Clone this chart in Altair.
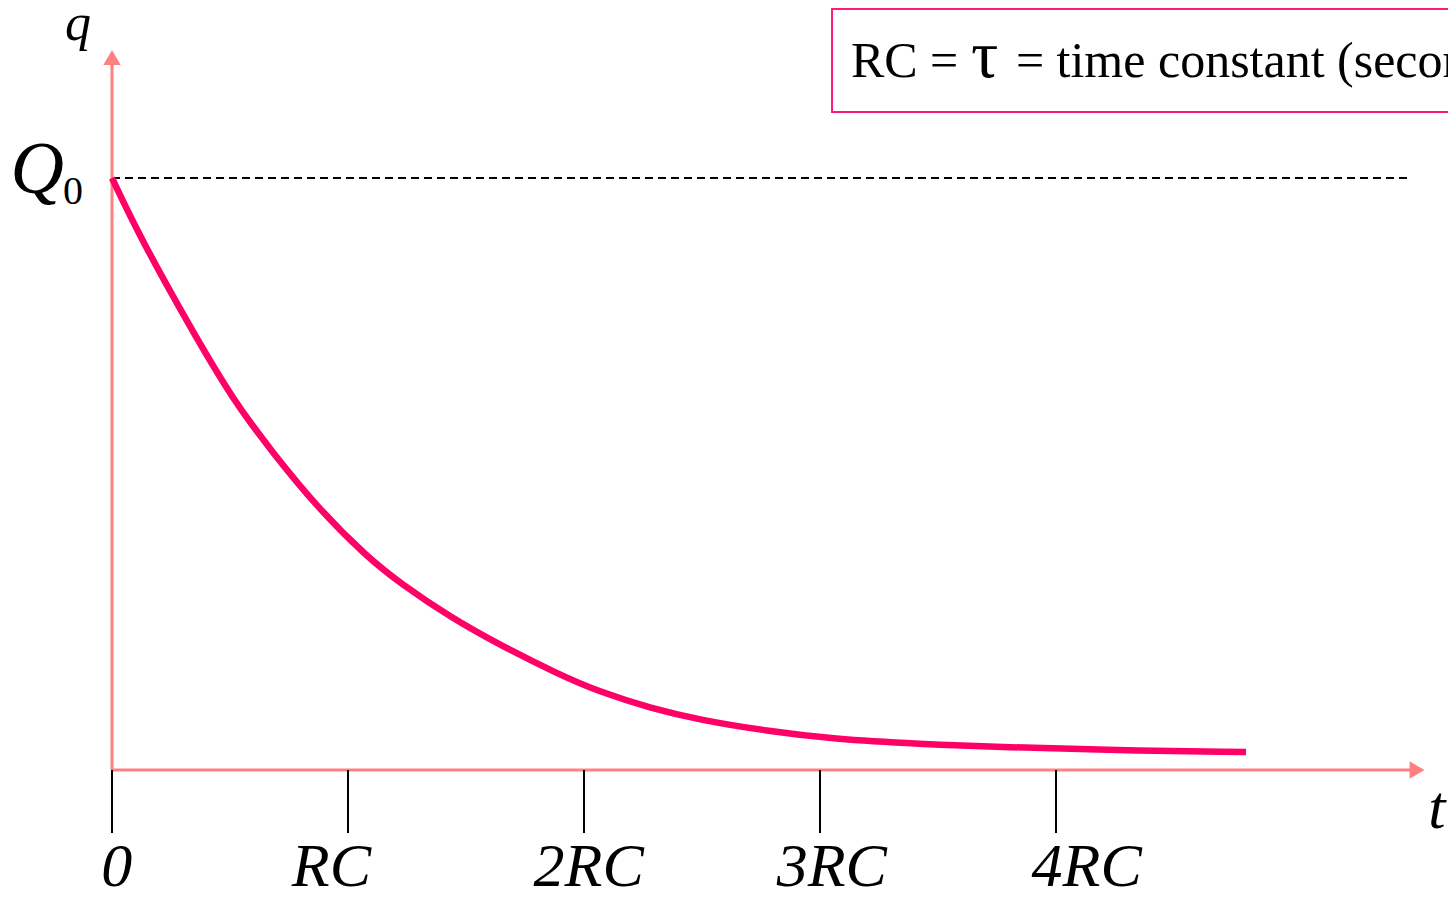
import altair as alt
import pandas as pd

# ---- data (time in units of RC, charge in units of Q0) ----
curve_t = [0, 0.1186, 0.3305, 0.5127, 0.6822, 0.8686, 1.0805, 1.2203, 1.4322, 1.6441,
           1.8983, 2.0678, 2.2797, 2.4915, 2.7754, 3.0551, 3.4237, 3.7627, 4.1864, 4.8051]
curve_q = [1.0, 0.9003, 0.7483, 0.6250, 0.5355, 0.4443, 0.3598, 0.3159, 0.2584, 0.2111,
           0.1605, 0.1318, 0.1047, 0.0845, 0.0659, 0.0524, 0.0439, 0.0389, 0.0338, 0.0304]

tick_pos = [0, 1, 2, 3, 4]
tick_labels = ["0", "RC", "2RC", "3RC", "4RC"]
tick_label_pos = [0.02, 0.93, 2.02, 3.05, 4.13]

# ---- layout ----
W, H = 1336, 762
X_MAX = W / 236.0
Y_MAX = H / 592.0
xs = alt.Scale(domain=[0, X_MAX], nice=False, zero=False)
ys = alt.Scale(domain=[0, Y_MAX], nice=False, zero=False)
SERIF = "Liberation Serif"
AXIS_COL = "#FF8080"
CURVE_COL = "#FF0066"
BOX_COL = "#FF1A75"


def X(f):
    return alt.X(f, type="quantitative", scale=xs, axis=None)


def Y(f):
    return alt.Y(f, type="quantitative", scale=ys, axis=None)


curve_df = pd.DataFrame({"t": curve_t, "q": curve_q})
curve = alt.Chart(curve_df).mark_line(
    color=CURVE_COL, strokeWidth=6.5, interpolate="basis"
).encode(x=X("t"), y=Y("q"))

# axes lines
axes_df = pd.DataFrame({"x": [0, 0], "y": [0, 0], "x2": [0, 5.5], "y2": [1.196, 0]})
axes = alt.Chart(axes_df).mark_rule(color=AXIS_COL, strokeWidth=3).encode(
    x=X("x"), y=Y("y"), x2="x2", y2="y2"
)
arrows_df = pd.DataFrame({"x": [0, 5.53], "y": [1.2035, 0],
                          "shape": ["triangle-up", "triangle-right"]})
arrows = alt.Chart(arrows_df).mark_point(
    filled=True, color=AXIS_COL, opacity=1, size=300, strokeWidth=0
).encode(x=X("x"), y=Y("y"), shape=alt.Shape("shape:N", scale=None))

# dashed Q0 line
dash_df = pd.DataFrame({"x": [0], "x2": [5.492], "y": [1.0]})
dash = alt.Chart(dash_df).mark_rule(color="black", strokeWidth=2, strokeDash=[8, 5]).encode(
    x=X("x"), x2="x2", y=Y("y")
)

# ticks
tick_df = pd.DataFrame({"t": tick_pos, "y": [0] * 5, "y2": [-0.1064] * 5})
ticks = alt.Chart(tick_df).mark_rule(color="black", strokeWidth=2).encode(
    x=X("t"), y=Y("y"), y2="y2"
)
tl_df = pd.DataFrame({"t": tick_label_pos, "label": tick_labels, "y": [-0.196] * 5})
tick_text = alt.Chart(tl_df).mark_text(
    font=SERIF, fontSize=62, fontStyle="italic", align="center", baseline="alphabetic", color="black"
).encode(x=X("t"), y=Y("y"), text="label:N")


def label(txt, x, y, size, align="left", style="normal"):
    d = pd.DataFrame({"x": [x], "y": [y], "txt": [txt]})
    return alt.Chart(d).mark_text(
        font=SERIF, fontSize=size, fontStyle=style, align=align,
        baseline="alphabetic", color="black"
    ).encode(x=X("x"), y=Y("y"), text="txt:N")


q_lab = label("q", -0.144, 1.233, 52, align="center", style="italic")
Q_lab = label("Q", -0.43, 0.975, 74, style="italic")
Q_sub = label("0", -0.208, 0.956, 40)
t_lab = label("t", 5.614, -0.098, 62, align="center", style="italic")

# info box
box_df = pd.DataFrame({"x": [3.051], "x2": [5.75], "y": [1.2855], "y2": [1.1115]})
box = alt.Chart(box_df).mark_rect(fill="white", stroke=BOX_COL, strokeWidth=2).encode(
    x=X("x"), x2="x2", y=Y("y"), y2="y2"
)
b1 = label("RC =", 3.131, 1.1706, 50)
b2 = label("τ", 3.64, 1.1706, 68)
b3 = label("= time constant (seconds)", 3.83, 1.1706, 50)

chart = alt.layer(
    dash, axes, arrows, ticks, tick_text, curve, q_lab, Q_lab, Q_sub, t_lab, box, b1, b2, b3
).properties(
    width=W, height=H,
    autosize=alt.AutoSizeParams(type="none"),
    padding={"left": 104, "top": 0, "right": 0, "bottom": 118},
    background="white",
).configure_view(stroke=None)

chart.save("out.html", embed_options={"renderer": "svg", "actions": False})
